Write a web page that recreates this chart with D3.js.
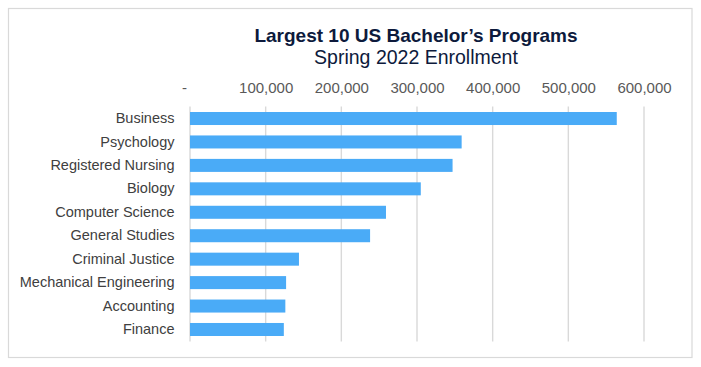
<!DOCTYPE html>
<html><head><meta charset="utf-8">
<script src="https://cdn.jsdelivr.net/npm/d3@7"></script>
<style>
html,body{margin:0;padding:0;background:#fff;}
svg{display:block;font-family:"Liberation Sans",Arial,sans-serif;}
</style></head>
<body><svg id="c" width="701" height="367"></svg>
<script>
const categories = ["Business","Psychology","Registered Nursing","Biology","Computer Science","General Studies","Criminal Justice","Mechanical Engineering","Accounting","Finance"];
const enrollment = [564000,359000,347000,305000,259000,238000,144000,127000,126000,124000];
const tickValues = [0,100000,200000,300000,400000,500000,600000];
const tickLabels = ["-","100,000","200,000","300,000","400,000","500,000","600,000"];
const title = "Largest 10 US Bachelor\u2019s Programs";
const subtitle = "Spring 2022 Enrollment";

const svg = d3.select("#c");
svg.append("rect").attr("x",8.5).attr("y",8.5).attr("width",683.5).attr("height",349)
  .attr("fill","#fff").attr("stroke","#d9d9d9").attr("stroke-width",1.2);

const x = d3.scaleLinear().domain([0,600000]).range([190,644]);
const y = d3.scaleBand().domain(categories).range([106.5,341.5]).paddingInner(0.445).paddingOuter(0.235);

// gridlines
svg.append("g").selectAll("line").data(tickValues).join("line")
  .attr("x1",d=>x(d)).attr("x2",d=>x(d)).attr("y1",106.5).attr("y2",341.5)
  .attr("stroke","#d9d9d9").attr("stroke-width",1.4);

// top axis labels
const ax = svg.append("g").attr("transform","translate(0,97)")
  .call(d3.axisTop(x).tickValues(tickValues).tickFormat((d,i)=>tickLabels[i]).tickSize(0).tickPadding(4.5));
ax.select(".domain").remove();
ax.selectAll("text").attr("font-size",15).attr("fill","#595959").attr("font-family","Liberation Sans, Arial, sans-serif")
  .attr("dx",(d)=>d===0?-6:0);

// bars
svg.append("g").selectAll("rect").data(categories).join("rect")
  .attr("x",x(0)).attr("y",d=>y(d)).attr("height",y.bandwidth())
  .attr("width",(d,i)=>x(enrollment[i])-x(0)).attr("fill","#4aabf7");

// category labels
const ay = svg.append("g").attr("transform","translate(190,0)")
  .call(d3.axisLeft(y).tickSize(0).tickPadding(15.5));
ay.select(".domain").remove();
ay.selectAll("text").attr("font-size",14.5).attr("fill","#404040").attr("font-family","Liberation Sans, Arial, sans-serif");

svg.append("text").attr("x",416).attr("y",41.5).attr("text-anchor","middle")
  .attr("font-size",19).attr("font-weight","bold").attr("fill","#0d1a3c").text(title);
svg.append("text").attr("x",416).attr("y",64.2).attr("text-anchor","middle")
  .attr("font-size",19.5).attr("fill","#0d1a3c").text(subtitle);
</script></body></html>
